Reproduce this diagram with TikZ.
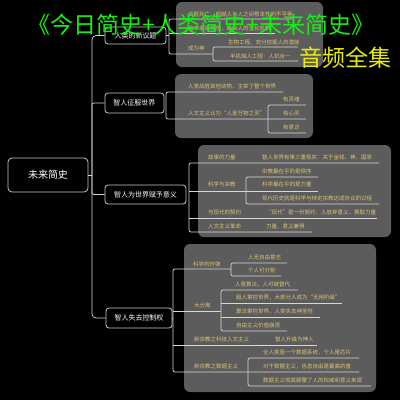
\documentclass[tikz,border=0pt]{standalone}
\usepackage{fontspec}
\setmainfont{Noto Sans CJK SC}
\definecolor{linec}{RGB}{215,215,215}
\definecolor{boxc}{RGB}{200,200,200}
\definecolor{panelc}{RGB}{92,92,92}
\definecolor{labc}{RGB}{220,195,120}
\definecolor{titleg}{RGB}{20,240,20}
\definecolor{titley}{RGB}{235,235,10}
\begin{document}
\begin{tikzpicture}[x=1pt,y=-1pt,
  ln/.style={draw=linec,line width=0.7pt},
  br/.style={ln,rounded corners=2pt},
  panel/.style={fill=panelc,rounded corners=6pt},
  rootbox/.style={draw=boxc,line width=0.8pt,rounded corners=4pt,fill=black,text=white,font=\fontsize{10}{10}\selectfont,minimum width=80pt,minimum height=34pt,inner sep=0pt},
  topic/.style={draw=boxc,line width=0.8pt,rounded corners=3pt,fill=black,text=white,font=\fontsize{7}{7}\selectfont,inner sep=0pt,minimum height=18pt},
  lbl/.style={text=labc,font=\fontsize{5.5}{6}\selectfont,anchor=west,inner sep=0pt}]
\fill[black] (0,0) rectangle (400,400);
\useasboundingbox (0,0) rectangle (400,400);
% panels
\fill[panel] (176,2) rectangle (323,67);
\fill[panel] (175,74) rectangle (313,138);
\fill[panel] (198,145) rectangle (391,237);
\fill[panel] (184,244) rectangle (376,392);
% root and topics
\node[rootbox] (r) at (48,175) {未来简史};
\node[topic,minimum width=61pt,minimum height=17pt] (n1) at (135.5,35.5) {人类的新议题};
\node[topic,minimum width=59pt,minimum height=20pt] (n2) at (134.5,103) {智人征服世界};
\node[topic,minimum width=81pt,minimum height=19pt] (n3) at (145.5,194.5) {智人为世界赋予意义};
\node[topic,minimum width=66pt,minimum height=20pt] (n4) at (139,318) {智人失去控制权};
% spine
\coordinate (sp) at (92,175);
\draw[ln,rounded corners=4pt] (n1.west) -| (sp) |- (n4.west);
\draw[ln] (r.east) -- (sp);
\draw[ln,rounded corners=2pt] (sp) |- (n2.west);
\draw[ln,rounded corners=2pt] (sp) |- (n3.west);
% ---- branch 1
\coordinate (b1) at (169,35.5);
\draw[ln] (n1.east) -- (b1);
\draw[ln,rounded corners=2pt] (292,19) -- (169,19) -- (169,54) -- (213,54);
\draw[ln] (169,33) -- (275,33);
\draw[br] (298,47) -- (213,47) -- (213,61) -- (298,61);
\node[lbl] (t11) at (188,14) {战胜死亡，超越人与人之间根本性的不平等};
\node[lbl] (t12) at (188,28) {追求幸福快乐，操纵人的生化机制};
\node[lbl] (t13) at (188,48.5) {成为神};
\node[lbl] (t14) at (228,42) {生物工程、充分挖掘人的潜能};
\node[lbl] (t15) at (230,56) {半机械人工程：人机合一};
% ---- branch 2
\draw[ln,rounded corners=2pt] (283,92) -- (166,92) -- (166,119) -- (306,119);
\draw[br] (306,105) -- (268,105) -- (268,133) -- (306,133);
\node[lbl] (t21) at (188,86) {人类战胜其他动物，主宰了整个世界};
\node[lbl] (t22) at (188,113) {人文主义认为“人是万物之灵”};
\node[lbl] (t23) at (283,99) {有灵魂};
\node[lbl] (t24) at (283,113) {有心灵};
\node[lbl] (t25) at (283,127) {有意识};
% ---- branch 3
\draw[ln,rounded corners=2pt] (379,163) -- (189,163) -- (189,232) -- (312,232);
\draw[ln] (189,191) -- (318,191);
\draw[ln] (189,218) -- (377,218);
\draw[br] (318,177) -- (246,177) -- (246,204) -- (379,204);
\node[lbl] (t31) at (208,157) {故事的力量};
\node[lbl] (t32) at (262,157) {智人世界有第三重现实：关于金钱、神、国家};
\node[lbl] (t33) at (208,184.5) {科学与宗教};
\node[lbl] (t34) at (262,171) {宗教最在乎的是秩序};
\node[lbl] (t35) at (262,184.5) {科学最在乎的是力量};
\node[lbl] (t36) at (262,198) {现代历史就是科学与特定宗教达成协议的过程};
\node[lbl] (t37) at (208,212) {与现代的契约};
\node[lbl] (t38) at (266,212) {“现代”是一份契约：人放弃意义，换取力量};
\node[lbl] (t39) at (208,226) {人文主义革命};
\node[lbl] (t3a) at (266,226) {力量、意义兼得};
% ---- branch 4
\draw[ln] (n4.east) -- (173,318);
\draw[ln,rounded corners=2pt] (231,269) -- (173,269) -- (173,372) -- (359,372);
\draw[ln] (173,311) -- (221,311);
\draw[ln] (173,345) -- (317,345);
\draw[br] (287,263) -- (231,263) -- (231,276) -- (281,276);
\draw[br] (298,290) -- (221,290) -- (221,331) -- (287,331);
\draw[ln] (221,303) -- (342,303);
\draw[ln] (221,317) -- (320,317);
\draw[br] (359,358) -- (248,358) -- (248,386) -- (371,386);
\node[lbl] (t41) at (193,264) {科学的炸弹};
\node[lbl] (t42) at (248,257) {人无自由意志};
\node[lbl] (t43) at (248,270.5) {个人可分割};
\node[lbl] (t44) at (194,305) {大分离};
\node[lbl] (t45) at (235,284) {人是算法，人可被替代};
\node[lbl] (t46) at (236,297.5) {超人掌控世界，大部分人成为“无用阶级”};
\node[lbl] (t47) at (236,311) {算法掌控世界，人类失去神圣性};
\node[lbl] (t48) at (236,325) {自由主义价值崩溃};
\node[lbl] (t49) at (194,339) {新宗教之科技人文主义};
\node[lbl] (t4a) at (275,339) {智人升级为神人};
\node[lbl] (t4b) at (194,366.5) {新宗教之数据主义};
\node[lbl] (t4c) at (263,352.5) {全人类是一个数据系统，个人是芯片};
\node[lbl] (t4d) at (263,366.5) {对于数据主义，信息自由是最高的善};
\node[lbl] (t4e) at (263,380.5) {数据主义彻底颠覆了人的权威和意义来源};
% titles
\node[text=titleg,font=\fontsize{23}{23}\selectfont,inner sep=0pt] (title) at (201,25) {《今日简史+人类简史+未来简史》};
\node[text=titley,font=\fontsize{23}{23}\selectfont,inner sep=0pt] (sub) at (345,58) {音频全集};
\end{tikzpicture}
\end{document}
